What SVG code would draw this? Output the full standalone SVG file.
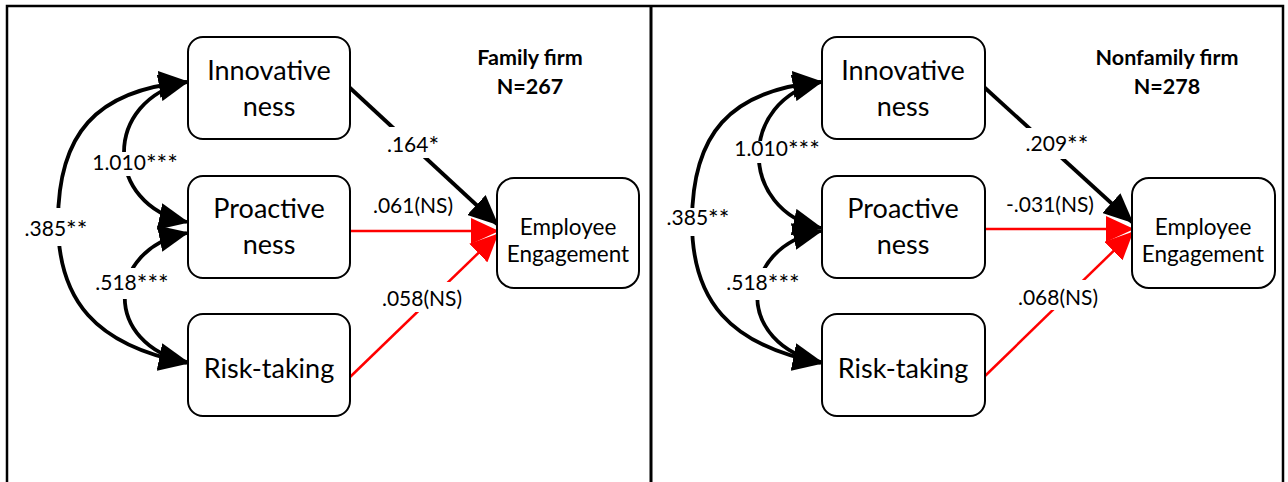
<svg xmlns="http://www.w3.org/2000/svg" width="1288" height="482" viewBox="0 0 1288 482">
  <style>
    .frame { fill: none; stroke: #000; stroke-width: 2.5; }
    .divider { fill: none; stroke: #000; stroke-width: 3; }
    .box { fill: #fff; stroke: #000; stroke-width: 2; }
    .name { font-family: Lato, "Liberation Sans", sans-serif; font-size: 27px; fill: #000; text-anchor: middle; }
    .dv { font-family: Lato, "Liberation Sans", sans-serif; font-size: 22.5px; fill: #000; text-anchor: middle; }
    .title { font-family: Lato, "Liberation Sans", sans-serif; font-size: 21.5px; font-weight: bold; fill: #000; text-anchor: middle; }
    .coef { font-family: Lato, "Liberation Sans", sans-serif; font-size: 21px; fill: #000; text-anchor: middle; }
    .ast { font-size: 25px; }
    .sig { fill: none; stroke: #000; stroke-width: 3.8; marker-end: url(#headBlack); }
    .ns { fill: none; stroke: #ff0000; stroke-width: 2.5; marker-end: url(#headRed); }
    .cov { fill: none; stroke: #000; stroke-width: 3.8; marker-start: url(#headBlack); marker-end: url(#headBlack); }
    .gap { fill: #fff; stroke: none; }
  </style>
  <defs>
    <marker id="headBlack" markerUnits="userSpaceOnUse" markerWidth="30" markerHeight="27" viewBox="0 0 30 27" refX="28" refY="13.5" orient="auto-start-reverse">
      <path d="M0,0 L30,13.5 L0,27 Z" fill="#000"/>
    </marker>
    <marker id="headRed" markerUnits="userSpaceOnUse" markerWidth="28" markerHeight="26" viewBox="0 0 28 26" refX="26" refY="13" orient="auto">
      <path d="M0,0 L28,13 L0,26 Z" fill="#ff0000"/>
    </marker>
  </defs>

  <rect width="1288" height="482" fill="#fff"/>

  <!-- outer frame and panel divider -->
  <path class="frame" d="M7,482 V6 H1283 V482"/>
  <line class="divider" x1="651" y1="6" x2="651" y2="482"/>

  <!-- connectors: covariances and paths -->
  <g id="connectors">
    <!-- family firm panel -->
    <path class="cov" d="M187,82 C95,90 58,135 58,222 C58,300 95,345 187,363"/>
    <path class="cov" d="M187,82 C103,100 103,205 187,222"/>
    <path class="cov" d="M187,233 C104,250 104,345 187,362"/>
    <path class="sig" d="M349,87 L497,224"/>
    <path class="ns" d="M350,231 L497,231"/>
    <path class="ns" d="M349,378 L497,235"/>
    <!-- nonfamily firm panel -->
    <path class="cov" d="M821,82 C729,90 692,135 692,222 C692,300 729,345 821,363"/>
    <path class="cov" d="M821,82 C738,100 738,210 821,228"/>
    <path class="cov" d="M821,231 C736,248 736,345 821,362"/>
    <path class="sig" d="M984,87 L1132,222"/>
    <path class="ns" d="M985,229 L1132,229"/>
    <path class="ns" d="M985,376 L1132,233"/>
    <!-- breaks in the lines behind coefficient labels -->
    <rect class="gap" x="384" y="127" width="58" height="31"/>
    <rect class="gap" x="378" y="282" width="88" height="30"/>
    <rect class="gap" x="24" y="208" width="65" height="38"/>
    <rect class="gap" x="94" y="152" width="83" height="24"/>
    <rect class="gap" x="96" y="268" width="73" height="31"/>
    <rect class="gap" x="1020" y="128" width="72" height="31"/>
    <rect class="gap" x="1014" y="280" width="88" height="30"/>
    <rect class="gap" x="668" y="208" width="61" height="28"/>
    <rect class="gap" x="736" y="141" width="82" height="22"/>
    <rect class="gap" x="727" y="268" width="72" height="32"/>
  </g>

  <!-- coefficient labels -->
  <g id="coefficients">
    <text class="coef" x="413" y="152">.164<tspan class="ast" dy="3">*</tspan></text>
    <text class="coef" x="413" y="213">.061(NS)</text>
    <text class="coef" x="422" y="306">.058(NS)</text>
    <text class="coef" x="56" y="236">.385<tspan class="ast" dy="3">**</tspan></text>
    <text class="coef" x="135" y="170">1.010<tspan class="ast" dy="3">***</tspan></text>
    <text class="coef" x="132" y="290">.518<tspan class="ast" dy="3">***</tspan></text>
    <text class="coef" x="1057" y="151">.209<tspan class="ast" dy="3">**</tspan></text>
    <text class="coef" x="1050" y="212">-.031(NS)</text>
    <text class="coef" x="1058" y="305">.068(NS)</text>
    <text class="coef" x="698" y="225">.385<tspan class="ast" dy="3">**</tspan></text>
    <text class="coef" x="777" y="156">1.010<tspan class="ast" dy="3">***</tspan></text>
    <text class="coef" x="763" y="290">.518<tspan class="ast" dy="3">***</tspan></text>
  </g>

  <!-- panel titles -->
  <g id="title-family">
    <text class="title" x="530" y="65">Family firm</text>
    <text class="title" x="530" y="94">N=267</text>
  </g>
  <g id="title-nonfamily">
    <text class="title" x="1167" y="65">Nonfamily firm</text>
    <text class="title" x="1167" y="94">N=278</text>
  </g>

  <!-- family firm nodes -->
  <g id="fam-innovativeness">
    <rect class="box" x="188" y="37" width="162" height="102" rx="15"/>
    <text class="name" x="269" y="80">Innovative</text>
    <text class="name" x="269" y="116">ness</text>
  </g>
  <g id="fam-proactiveness">
    <rect class="box" x="188" y="176" width="162" height="102" rx="15"/>
    <text class="name" x="269" y="218">Proactive</text>
    <text class="name" x="269" y="254">ness</text>
  </g>
  <g id="fam-risk-taking">
    <rect class="box" x="188" y="314" width="162" height="102" rx="15"/>
    <text class="name" x="269" y="378">Risk-taking</text>
  </g>
  <g id="fam-engagement">
    <rect class="box" x="497" y="178" width="142" height="110" rx="17"/>
    <text class="dv" x="568" y="235">Employee</text>
    <text class="dv" x="568" y="262">Engagement</text>
  </g>

  <!-- nonfamily firm nodes -->
  <g id="nonfam-innovativeness">
    <rect class="box" x="822" y="37" width="163" height="102" rx="15"/>
    <text class="name" x="903" y="80">Innovative</text>
    <text class="name" x="903" y="116">ness</text>
  </g>
  <g id="nonfam-proactiveness">
    <rect class="box" x="822" y="176" width="163" height="102" rx="15"/>
    <text class="name" x="903" y="218">Proactive</text>
    <text class="name" x="903" y="254">ness</text>
  </g>
  <g id="nonfam-risk-taking">
    <rect class="box" x="822" y="314" width="163" height="102" rx="15"/>
    <text class="name" x="903" y="378">Risk-taking</text>
  </g>
  <g id="nonfam-engagement">
    <rect class="box" x="1132" y="178" width="143" height="110" rx="17"/>
    <text class="dv" x="1203" y="235">Employee</text>
    <text class="dv" x="1203" y="262">Engagement</text>
  </g>
</svg>
